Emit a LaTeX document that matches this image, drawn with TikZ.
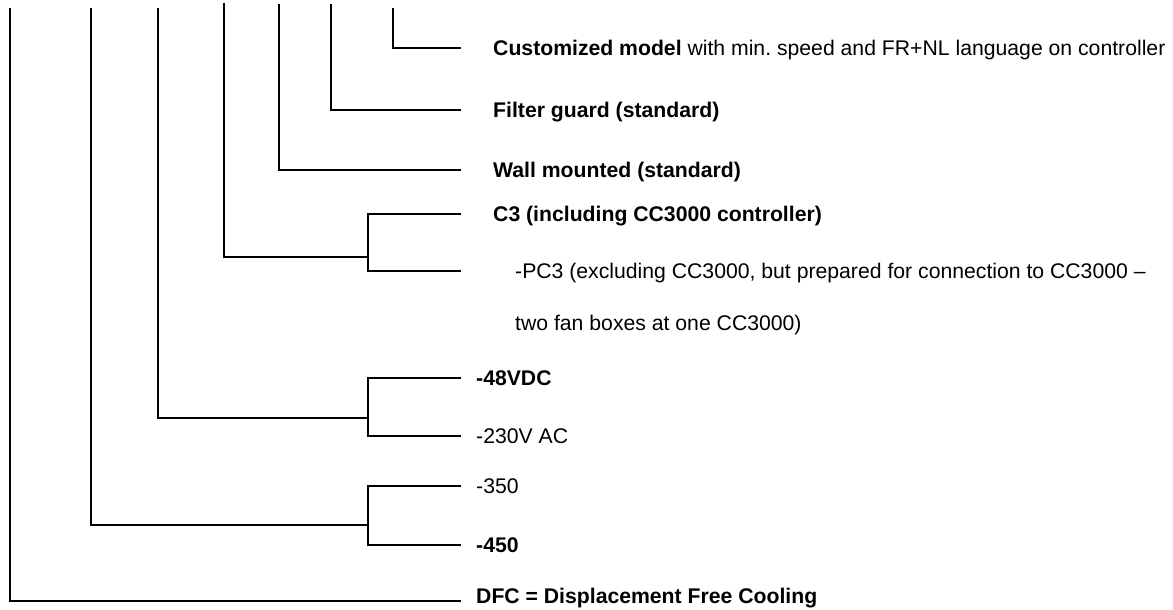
\documentclass[tikz,border=0pt]{standalone}
\usepackage{fontspec}
\setmainfont{Liberation Sans}
\usetikzlibrary{positioning}
\frenchspacing
\tikzset{
  ln/.style  ={line width=1.5pt},
  lbl/.style ={anchor=west, inner sep=0pt, text height=15pt, text depth=0pt, font=\fontsize{21.2}{25}\selectfont},
}
\begin{document}
\begin{tikzpicture}[x=1pt, y=-1pt]
  \useasboundingbox (0,0) rectangle (1173,610);
  \coordinate (t1) at (10,8);
  \coordinate (t2) at (91,8);
  \coordinate (t3) at (158,8);
  \coordinate (t4) at (224,3);
  \coordinate (t5) at (279,4);
  \coordinate (t6) at (331,4);
  \coordinate (t7) at (393,8);
  \coordinate (j4) at (368,257);
  \coordinate (j3) at (368,418);
  \coordinate (j2) at (368,525);
  \coordinate (ecust) at (461,48);
  \coordinate (efilt) at (461,110);
  \coordinate (ewall) at (461,170);
  \coordinate (ec3) at (461,214);
  \coordinate (epc3) at (461,271);
  \coordinate (e48) at (461,378);
  \coordinate (e230) at (461,436);
  \coordinate (e350) at (461,486);
  \coordinate (e450) at (461,545);
  \coordinate (edfc) at (461,601);
  \node[lbl, right=32pt of ecust] (cust) {\textbf{Customized model} with min. speed and FR+NL language on controller};
  \node[lbl, right=32pt of efilt] (filt) {\textbf{Filter guard (standard)}};
  \node[lbl, right=32pt of ewall] (wall) {\textbf{Wall mounted (standard)}};
  \node[lbl, right=32pt of ec3] (c3) {\textbf{C3 (including CC3000 controller)}};
  \node[lbl, right=54pt of epc3] (pc3) {-PC3 (excluding CC3000, but prepared for connection to CC3000 --};
  \node[lbl] (pc3b) at ([yshift=-52pt]pc3.west) {two fan boxes at one CC3000)};
  \node[lbl, right=15pt of e48] (v48) {\textbf{-48VDC}};
  \node[lbl, right=15pt of e230] (v230) {-230V AC};
  \node[lbl, right=15pt of e350] (s350) {-350};
  \node[lbl, right=15pt of e450] (s450) {\textbf{-450}};
  \node[lbl, right=15pt of edfc, yshift=5pt] (dfc) {\textbf{DFC = Displacement Free Cooling}};
  \draw[ln] (t7) |- (ecust);
  \draw[ln] (t6) |- (efilt);
  \draw[ln] (t5) |- (ewall);
  \draw[ln] (t4) |- (j4);
  \draw[ln] (ec3) -| (j4) |- (epc3);
  \draw[ln] (t3) |- (j3);
  \draw[ln] (e48) -| (j3) |- (e230);
  \draw[ln] (t2) |- (j2);
  \draw[ln] (e350) -| (j2) |- (e450);
  \draw[ln] (t1) |- (edfc);
\end{tikzpicture}
\end{document}
